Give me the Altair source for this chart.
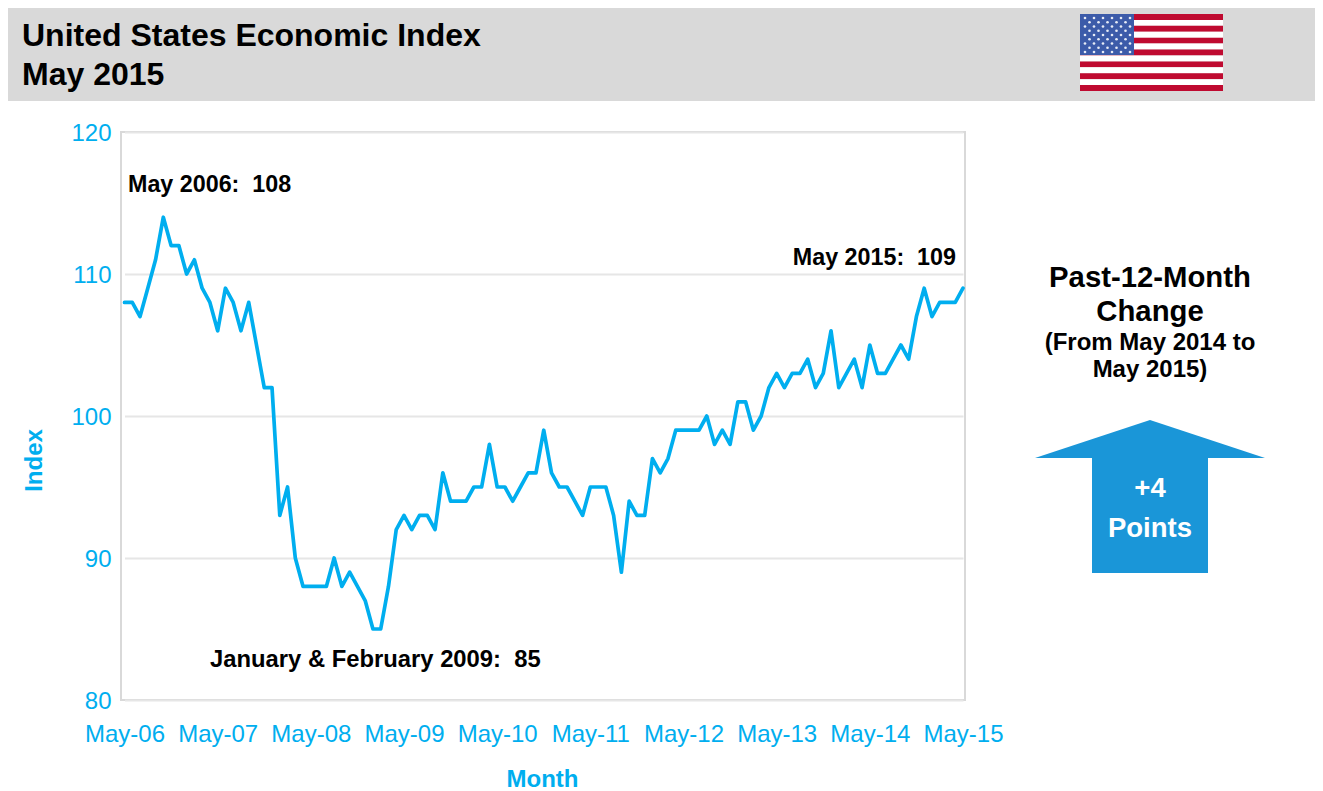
import altair as alt
import pandas as pd

FONT = "Liberation Sans"
BLUE = "#00AEEF"
ARROW = "#1A96D8"

month_names = ["May", "Jun", "Jul", "Aug", "Sep", "Oct", "Nov", "Dec", "Jan", "Feb", "Mar", "Apr"]
months = [f"{month_names[i % 12]}-{(6 + (i + 4) // 12):02d}" for i in range(109)]
values = [
    108, 108, 107, 109, 111, 114, 112, 112, 110, 111, 109, 108,
    106, 109, 108, 106, 108, 105, 102, 102, 93, 95, 90, 88,
    88, 88, 88, 90, 88, 89, 88, 87, 85, 85, 88, 92,
    93, 92, 93, 93, 92, 96, 94, 94, 94, 95, 95, 98,
    95, 95, 94, 95, 96, 96, 99, 96, 95, 95, 94, 93,
    95, 95, 95, 93, 89, 94, 93, 93, 97, 96, 97, 99,
    99, 99, 99, 100, 98, 99, 98, 101, 101, 99, 100, 102,
    103, 102, 103, 103, 104, 102, 103, 106, 102, 103, 104, 102,
    105, 103, 103, 104, 105, 104, 107, 109, 107, 108, 108, 108,
    109,
]
year_ticks = ["May-06", "May-07", "May-08", "May-09", "May-10", "May-11", "May-12", "May-13", "May-14", "May-15"]
y_ticks = [80, 90, 100, 110, 120]

OX, OY = 121, 132  # page position of the plot area's corner


def rect(x0, x1, y0, y1, color):
    return alt.Chart(pd.DataFrame({"a": [0]})).mark_rect(color=color, opacity=1).encode(
        x=alt.value(x0 - OX), x2=alt.value(x1 - OX), y=alt.value(y0 - OY), y2=alt.value(y1 - OY)
    )


def label(text, x, y, size, color="black", align="center"):
    return alt.Chart(pd.DataFrame({"t": [text]})).mark_text(
        font=FONT, fontWeight="bold", fontSize=size, color=color, align=align, baseline="middle"
    ).encode(x=alt.value(x - OX), y=alt.value(y - OY), text="t:N")


header = rect(0, 1323, 0, 101, "#D9D9D9")

# flag
flag_x0, flag_x1, flag_y0, flag_y1 = 1080, 1223, 14, 91
stripe_h = (flag_y1 - flag_y0) / 13
stripes = [
    rect(flag_x0, flag_x1, flag_y0 + i * stripe_h, flag_y0 + (i + 1) * stripe_h,
         "#BF0A30" if i % 2 == 0 else "#FFFFFF")
    for i in range(13)
]
canton = rect(flag_x0, 1134, flag_y0, 55, "#3C5BA9")
stars = []
for row in range(9):
    n = 6 if row % 2 == 0 else 5
    for col in range(n):
        stars.append({
            "x": 1085 + col * 9 + (0 if row % 2 == 0 else 4.5) - OX,
            "y": 18 + row * 4.25 - OY,
        })
stars_layer = alt.Chart(pd.DataFrame(stars)).mark_point(
    filled=True, color="#E8ECF6", opacity=1, size=7, shape="circle"
).encode(x=alt.X("x:Q", scale=None, axis=None), y=alt.Y("y:Q", scale=None, axis=None))

# arrow
arrow_df = pd.DataFrame({
    "x": [1035 - OX, 1150 - OX, 1265 - OX],
    "y": [458 - OY, 420 - OY, 458 - OY],
    "y2": [458 - OY, 458 - OY, 458 - OY],
})
arrow_head = alt.Chart(arrow_df).mark_area(color=ARROW, opacity=1, line=False).encode(
    x=alt.X("x:Q", scale=None, axis=None),
    y=alt.Y("y:Q", scale=None, axis=None),
    y2="y2:Q",
)
arrow_shaft = rect(1092, 1208, 457, 573, ARROW)

# main series
df = pd.DataFrame({"month": months, "value": values})
line = alt.Chart(df).mark_line(color=BLUE, strokeWidth=3.7, strokeJoin="round", strokeCap="round").encode(
    x=alt.X(
        "month:O", sort=months,
        scale=alt.Scale(type="point", range=[3.5, 842], padding=0),
        axis=alt.Axis(
            values=year_ticks, labelAngle=0, ticks=False, domain=False, grid=False,
            labelFont=FONT, labelFontSize=24, labelColor=BLUE, labelPadding=22,
            title="Month", titleFont=FONT, titleFontSize=24, titleFontWeight="bold",
            titleColor=BLUE, titleY=79, titleX=421, titleBaseline="middle", labelOverlap=False,
        ),
    ),
    y=alt.Y(
        "value:Q",
        scale=alt.Scale(domain=[80, 120], nice=False, zero=False),
        axis=alt.Axis(
            values=y_ticks, ticks=False, domain=False, grid=True,
            gridColor="#E6E6E6", gridWidth=2,
            labelFont=FONT, labelFontSize=24, labelColor=BLUE, labelPadding=10, labelOffset=1,
            title="Index", titleFont=FONT, titleFontSize=24, titleFontWeight="bold",
            titleColor=BLUE, titleX=-75, titleY=328, titleAngle=270,
        ),
    ),
)

layers = [header] + stripes + [canton, stars_layer, arrow_head, arrow_shaft, line] + [
    label("United States Economic Index", 22, 36, 32, align="left"),
    label("May 2015", 22, 75, 32, align="left"),
    label("May 2006:\u00a0\u00a0108", 128, 185, 23.3, align="left"),
    label("May 2015:\u00a0\u00a0109", 956, 258, 23.3, align="right"),
    label("January & February 2009:\u00a0\u00a085", 210, 660, 23.8, align="left"),
    label("Past-12-Month", 1150, 278, 29.3),
    label("Change", 1150, 312, 29.3),
    label("(From May 2014 to", 1150, 343, 24),
    label("May 2015)", 1150, 370, 24),
    label("+4", 1150, 489, 27.5, color="white"),
    label("Points", 1150, 529, 27.5, color="white"),
]

chart = alt.layer(*layers).resolve_scale(x="independent", y="independent").properties(
    width=844,
    height=568,
    padding={"left": 113, "top": 124, "right": 350, "bottom": 91},
    autosize=alt.AutoSizeParams(type="none"),
).configure_view(stroke="#D9D9D9", strokeWidth=2)

chart.save("out.html", embed_options={"renderer": "svg", "actions": False})
